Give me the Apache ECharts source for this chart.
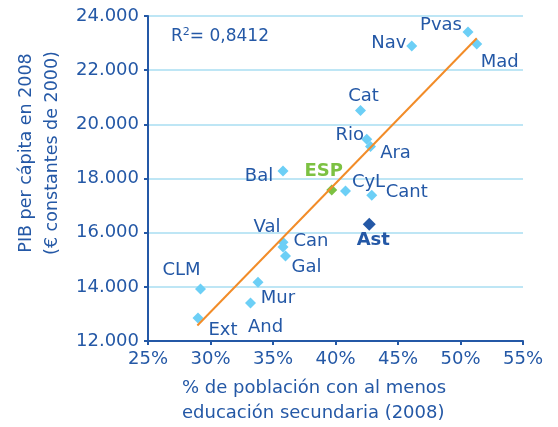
<!DOCTYPE html>
<html>
<head>
<meta charset="utf-8">
<script src="https://cdn.jsdelivr.net/npm/echarts@6/dist/echarts.min.js"></script>
<style>
  html, body { margin: 0; padding: 0; background: #fff; }
  #chart { width: 558px; height: 427px; }
</style>
</head>
<body>
<div id="chart"></div>
<script>
// Regions: % population with at least secondary education, GDP per capita 2008
const regions = ['Pvas', 'Mad', 'Nav', 'Cat', 'Rio', 'Ara', 'Bal', 'CyL', 'Cant', 'Val', 'Can', 'Gal', 'CLM', 'Mur', 'And', 'Ext'];
const education = [50.6, 51.3, 46.1, 42.0, 42.5, 42.8, 35.8, 40.8, 42.9, 35.8, 35.8, 36.0, 29.2, 33.8, 33.2, 29.0];
const gdp = [23410, 22970, 22890, 20510, 19450, 19180, 18280, 17540, 17380, 15650, 15470, 15140, 13920, 14170, 13400, 12850];

const spain = { name: 'ESP', x: 39.7, y: 17580 };
const asturias = { name: 'Ast', x: 42.7, y: 16310 };

// trend line endpoints
const trendX = [28.95, 51.3];
const trendY = [12570, 23180];
const r2Text = '0,8412';

const xTicks = { min: 25, max: 55, step: 5 };
const yTicks = { min: 12000, max: 24000, step: 2000 };

const dark = '#2458a6';
const light = '#6ccff6';
const font = 'DejaVu Sans';

// label offsets (px) relative to each marker
const labelOffsets = {
  Pvas: [-27, -7], Mad: [23, 18], Nav: [-23, -3], Cat: [3, -14], Rio: [-17, -4],
  Ara: [25, 7], Bal: [-24, 5], CyL: [23, -9], Cant: [35, -3], Val: [-16, -15],
  Can: [28, -6], Gal: [21, 11], CLM: [-19, -19], Mur: [20, 16], And: [15, 24],
  Ext: [25, 12], ESP: [-8, -19], Ast: [4, 16]
};

const fmtThousands = v => String(v).replace(/\B(?=(\d{3})+(?!\d))/g, '.');

const chart = echarts.init(document.getElementById('chart'), null, { renderer: 'canvas' });

const pointLabel = (name, extra) => ({
  show: true,
  position: 'inside',
  offset: labelOffsets[name],
  formatter: name,
  color: dark,
  fontFamily: font,
  fontSize: 18,
  ...extra
});

chart.setOption({
  animation: false,
  backgroundColor: '#fff',
  grid: { left: 148, right: 35, top: 16, bottom: 86 },
  xAxis: {
    type: 'value',
    min: xTicks.min, max: xTicks.max, interval: xTicks.step,
    axisLine: { lineStyle: { color: dark, width: 2 } },
    axisTick: { show: true, length: 4, lineStyle: { color: dark, width: 2 } },
    axisLabel: { color: dark, fontFamily: font, fontSize: 18, margin: 9, formatter: v => v + '%' },
    splitLine: { show: false }
  },
  yAxis: {
    type: 'value',
    min: yTicks.min, max: yTicks.max, interval: yTicks.step,
    axisLine: { show: true, lineStyle: { color: dark, width: 2 } },
    axisTick: { show: true, length: 4, lineStyle: { color: dark, width: 2 } },
    axisLabel: { color: dark, fontFamily: font, fontSize: 18, margin: 9, formatter: fmtThousands },
    splitLine: { show: true, lineStyle: { color: '#a9def2', width: 1.5 } }
  },
  graphic: [
    {
      type: 'text', x: 39, y: 153, rotation: Math.PI / 2, z: 10,
      style: {
        text: 'PIB per cápita en 2008\n(€ constantes de 2000)',
        fill: dark, font: '17.5px "DejaVu Sans"', align: 'center', verticalAlign: 'middle',
        lineHeight: 26
      }
    },
    {
      type: 'text', left: 182, top: 376,
      style: {
        text: '% de población con al menos\neducación secundaria (2008)',
        fill: dark, font: '18px "DejaVu Sans"', lineHeight: 25
      }
    },
    {
      type: 'text', left: 171, top: 27,
      style: {
        text: '{r|R}{s|2}{r|= ' + r2Text + '}',
        rich: {
          r: { fill: dark, fontFamily: font, fontSize: 17 },
          s: { fill: dark, fontFamily: font, fontSize: 11, verticalAlign: 'top', padding: [0, 0, 8, 0] }
        }
      }
    }
  ],
  series: [
    {
      type: 'scatter',
      symbol: 'diamond',
      symbolSize: 11,
      itemStyle: { color: light, opacity: 1 },
      data: regions.map((name, i) => ({
        name, value: [education[i], gdp[i]], label: pointLabel(name)
      })),
      z: 3
    },
    {
      type: 'scatter',
      symbol: 'diamond',
      symbolSize: 11,
      itemStyle: { color: '#7cc142', opacity: 1 },
      data: [{ name: spain.name, value: [spain.x, spain.y],
        label: pointLabel(spain.name, { color: '#7cc142', fontWeight: 'bold' }) }],
      z: 3
    },
    {
      type: 'scatter',
      symbol: 'diamond',
      symbolSize: 13,
      itemStyle: { color: dark, opacity: 1 },
      data: [{ name: asturias.name, value: [asturias.x, asturias.y],
        label: pointLabel(asturias.name, { fontWeight: 'bold' }) }],
      z: 3
    },
    {
      type: 'line',
      showSymbol: false,
      symbol: 'none',
      lineStyle: { color: '#f28c28', width: 2 },
      data: trendX.map((x, i) => [x, trendY[i]]),
      z: 4,
      silent: true
    }
  ]
});
</script>
</body>
</html>
